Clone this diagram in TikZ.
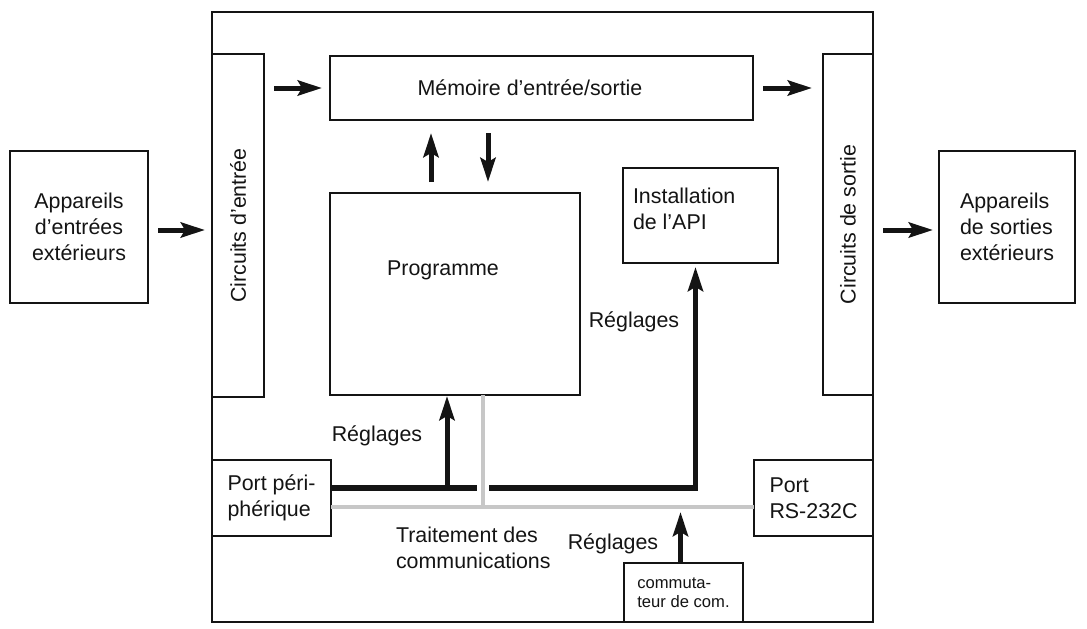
\documentclass[tikz,border=0pt]{standalone}
\usepackage{fontspec}
\setmainfont{Liberation Sans}
\usetikzlibrary{arrows.meta,calc}
\definecolor{PlcInk}{gray}{0.08}
\definecolor{PlcComm}{gray}{0.78}
\tikzset{
    plc/diagram/.style={
        font=\fontsize{21.4}{26}\selectfont,
        draw=PlcInk,
        text=PlcInk,
        line join=miter,
        every node/.style={inner sep=0pt, outer sep=0pt}
    },
    plc/frame/.style={rectangle, draw=PlcInk, line width=2.2pt},
    plc/box/.style={rectangle, draw=PlcInk, fill=white, line width=2.6pt, align=center},
    plc/text/.style={align=left},
    plc/small/.style={font=\fontsize{16.6}{18.5}\selectfont, align=left},
    plc/head/.style={-{Stealth[length=24pt, width=15pt, inset=4pt]}},
    plc/arrow/.style={draw=PlcInk, line width=5pt, plc/head},
    plc/bus/.style={draw=PlcInk, line width=5.6pt},
    plc/comm/.style={draw=PlcComm, line width=4.6pt},
    plc/halo/.style={draw=white, line width=12pt}
}

\begin{document}
\begin{tikzpicture}[plc/diagram, x=1pt, y=-1pt]
    \useasboundingbox (0,0) rectangle (1087,629);
    \node[plc/frame, minimum width=661, minimum height=610] (cpu) at (542.5,317) {};
    \node[plc/box, minimum width=138, minimum height=152] (devIn) at (79,227)
        {Appareils\\d’entrées\\extérieurs};
    \node[plc/box, minimum width=52, minimum height=343] (circIn) at (238,225.5) {};
    \node[rotate=90] (circInText) at (circIn.center) {Circuits d’entrée};
    \node[plc/box, minimum width=423, minimum height=64] (mem) at (541.5,88) {};
    \node (memText) at (530,88) {Mémoire d’entrée/sortie};
    \node[plc/box, minimum width=50, minimum height=341] (circOut) at (848,224.5) {};
    \node[rotate=90] (circOutText) at (circOut.center) {Circuits de sortie};
    \node[plc/box, align=left, minimum width=136, minimum height=152] (devOut) at (1007,227)
        {Appareils\\de sorties\\extérieurs};
    \node[plc/box, minimum width=250, minimum height=202] (prog) at (455,294) {};
    \node (progText) at (443,270) {Programme};
    \node[plc/box, minimum width=155, minimum height=95] (inst) at (700.5,215.5) {};
    \node[plc/text, anchor=west] (instText) at (633,208.5) {Installation\\de l’API};
    \node[plc/box, align=left, minimum width=119, minimum height=76] (portPer) at (271.5,498)
        {Port péri-\\phérique};
    \node[plc/box, align=left, minimum width=119, minimum height=76] (portRS) at (813.5,498)
        {Port\\RS-232C};
    \node[plc/box, plc/small, minimum width=119, minimum height=59] (comSw) at (683.5,592.5)
        {commuta-\\teur de com.};

    \node (setProg) at (377,436) {Réglages};
    \node (setInst) at (634,322) {Réglages};
    \node (setComm) at (613,544) {Réglages};
    \node[plc/text, anchor=west] (commText) at (396,548) {Traitement des\\communications};

    \coordinate (devInOut) at ($(devIn.east)+(0,3)$);
    \coordinate (devOutIn) at ($(devOut.west)+(0,3)$);
    \draw[plc/arrow, shorten <=10pt, shorten >=7pt] (devInOut) -- (circIn.west |- devInOut);
    \draw[plc/arrow, shorten <=10pt, shorten >=8pt] (circIn.east |- mem.west) -- (mem.west);
    \draw[plc/arrow, shorten <=10pt, shorten >=11pt] (mem.east) -- (circOut.west |- mem.east);
    \draw[plc/arrow, shorten <=10pt, shorten >=6pt] (circOut.east |- devOutIn) -- (devOutIn);

    \coordinate (progUp) at ($(prog.north)+(-24,0)$);
    \coordinate (progDown) at ($(prog.north)+(33,0)$);
    \draw[plc/arrow, shorten <=11pt, shorten >=13pt] (progUp) -- (progUp |- mem.south);
    \draw[plc/arrow, shorten <=13pt, shorten >=11pt] (progDown |- mem.south) -- (progDown);

    \coordinate (busL) at ($(portPer.east)+(0,-10)$);
    \coordinate (instIn) at ($(inst.south)+(-5,0)$);
    \coordinate (progIn) at ($(prog.south)+(-8,0)$);
    \draw[plc/bus, plc/head, shorten >=4pt] (busL) -| (instIn);
    \draw[plc/arrow, shorten >=1pt] (progIn |- busL) -- (progIn);

    \coordinate (commL) at ($(portPer.east)+(0,9)$);
    \coordinate (commR) at ($(portRS.west)+(0,9)$);
    \coordinate (progOut) at ($(prog.south)+(28,0)$);
    \draw[plc/halo, shorten <=4pt, shorten >=4pt] (progOut) -- (progOut |- commL);
    \draw[plc/comm] (progOut) -- (progOut |- commL);
    \draw[plc/comm] (commL) -- (commR);

    \coordinate (swOut) at ($(comSw.north)+(-3,0)$);
    \draw[plc/arrow, shorten >=5pt] (swOut) -- (swOut |- commL);
\end{tikzpicture}
\end{document}
